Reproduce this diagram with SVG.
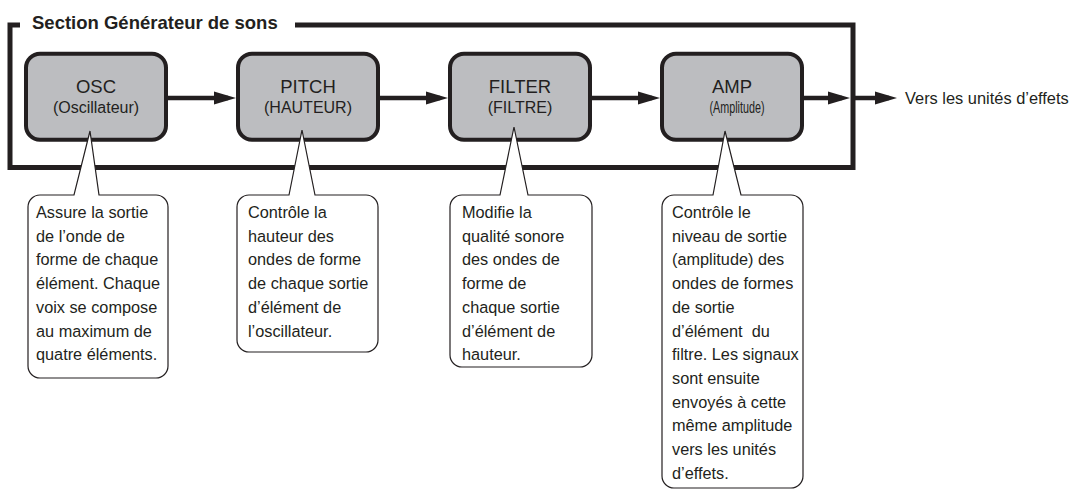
<svg xmlns="http://www.w3.org/2000/svg" width="1072" height="493" viewBox="0 0 1072 493">
<style>
text{font-family:"Liberation Sans",Arial,Helvetica,sans-serif;fill:#231f20}
.title{font-size:18.5px;font-weight:bold}
.bt{font-size:18.5px;text-anchor:middle}
.bs{font-size:16px;text-anchor:middle}
.ct{font-size:16.3px}
.box{fill:#bcbdc0;stroke:#231f20;stroke-width:4}
.frame{fill:none;stroke:#231f20;stroke-width:5;stroke-linejoin:miter}
.conn{fill:none;stroke:#231f20;stroke-width:4.5}
.call{fill:#fff;stroke:#231f20;stroke-width:1.2}
</style>
<defs>
<marker id="ah" markerUnits="userSpaceOnUse" markerWidth="23" markerHeight="14" refX="14" refY="7" orient="auto">
<path d="M0,0.5 L22,7 L0,13.5 z" fill="#231f20"/>
</marker>
</defs>
<g id="frame">
<path class="frame" d="M20,25 H10 V167.5 H853 V25 H295"/>
<text class="title" x="32" y="28.5">Section Générateur de sons</text>
</g>
<g id="osc">
<rect class="box" x="26" y="53.7" width="140" height="86" rx="14"/>
<text class="bt" x="96" y="93">OSC</text>
<text class="bs" x="96" y="113">(Oscillateur)</text>
</g>
<g id="pitch">
<rect class="box" x="238" y="53.7" width="140" height="86" rx="14"/>
<text class="bt" x="308" y="93">PITCH</text>
<text class="bs" x="308" y="113">(HAUTEUR)</text>
</g>
<g id="filter">
<rect class="box" x="450" y="53.7" width="140" height="86" rx="14"/>
<text class="bt" x="520" y="93">FILTER</text>
<text class="bs" x="520" y="113">(FILTRE)</text>
</g>
<g id="amp">
<rect class="box" x="662" y="53.7" width="140" height="86" rx="14"/>
<text class="bt" x="732" y="93">AMP</text>
<text class="bs" x="737" y="113" textLength="55" lengthAdjust="spacingAndGlyphs">(Amplitude)</text>
</g>
<g id="connectors">
<path class="conn" d="M168,98 H228" marker-end="url(#ah)"/>
<path class="conn" d="M380,98 H440" marker-end="url(#ah)"/>
<path class="conn" d="M592,98 H652" marker-end="url(#ah)"/>
<path class="conn" d="M804,98 H842" marker-end="url(#ah)"/>
<path class="conn" d="M855,98 H889" marker-end="url(#ah)"/>
</g>
<g id="output">
<text x="905" y="104" style="font-size:16.4px">Vers les unités d’effets</text>
</g>
<g id="callout-osc">
<path class="call" d="M40,195 H74 L90,131 L99,195 H156 A12,12 0 0 1 168,207 V366 A12,12 0 0 1 156,378 H40 A12,12 0 0 1 28,366 V207 A12,12 0 0 1 40,195 Z"/>
<text class="ct" x="36" y="218">Assure la sortie</text>
<text class="ct" x="36" y="241.7">de l’onde de</text>
<text class="ct" x="36" y="265.4">forme de chaque</text>
<text class="ct" x="36" y="289.1">élément. Chaque</text>
<text class="ct" x="36" y="312.8">voix se compose</text>
<text class="ct" x="36" y="336.5">au maximum de</text>
<text class="ct" x="36" y="360.2">quatre éléments.</text>
</g>
<g id="callout-pitch">
<path class="call" d="M249,195 H289 L302,130 L315,195 H366 A12,12 0 0 1 378,207 V340 A12,12 0 0 1 366,352 H249 A12,12 0 0 1 237,340 V207 A12,12 0 0 1 249,195 Z"/>
<text class="ct" x="248" y="218">Contrôle la</text>
<text class="ct" x="248" y="241.7">hauteur des</text>
<text class="ct" x="248" y="265.4">ondes de forme</text>
<text class="ct" x="248" y="289.1">de chaque sortie</text>
<text class="ct" x="248" y="312.8">d’élément de</text>
<text class="ct" x="248" y="336.5">l’oscillateur.</text>
</g>
<g id="callout-filter">
<path class="call" d="M462,195 H500 L514,127 L528,195 H580 A12,12 0 0 1 592,207 V355 A12,12 0 0 1 580,367 H462 A12,12 0 0 1 450,355 V207 A12,12 0 0 1 462,195 Z"/>
<text class="ct" x="462" y="218">Modifie la</text>
<text class="ct" x="462" y="241.7">qualité sonore</text>
<text class="ct" x="462" y="265.4">des ondes de</text>
<text class="ct" x="462" y="289.1">forme de</text>
<text class="ct" x="462" y="312.8">chaque sortie</text>
<text class="ct" x="462" y="336.5">d’élément de</text>
<text class="ct" x="462" y="360.2">hauteur.</text>
</g>
<g id="callout-amp">
<path class="call" d="M674,195 H713 L725,131 L741,195 H791 A12,12 0 0 1 803,207 V476 A12,12 0 0 1 791,488 H674 A12,12 0 0 1 662,476 V207 A12,12 0 0 1 674,195 Z"/>
<text class="ct" x="672" y="218">Contrôle le</text>
<text class="ct" x="672" y="241.7">niveau de sortie</text>
<text class="ct" x="672" y="265.4">(amplitude) des</text>
<text class="ct" x="672" y="289.1">ondes de formes</text>
<text class="ct" x="672" y="312.8">de sortie</text>
<text class="ct" x="672" y="336.5" xml:space="preserve">d’élément  du</text>
<text class="ct" x="672" y="360.2">filtre. Les signaux</text>
<text class="ct" x="672" y="383.9">sont ensuite</text>
<text class="ct" x="672" y="407.6">envoyés à cette</text>
<text class="ct" x="672" y="431.3">même amplitude</text>
<text class="ct" x="672" y="455">vers les unités</text>
<text class="ct" x="672" y="478.7">d’effets.</text>
</g>
</svg>
